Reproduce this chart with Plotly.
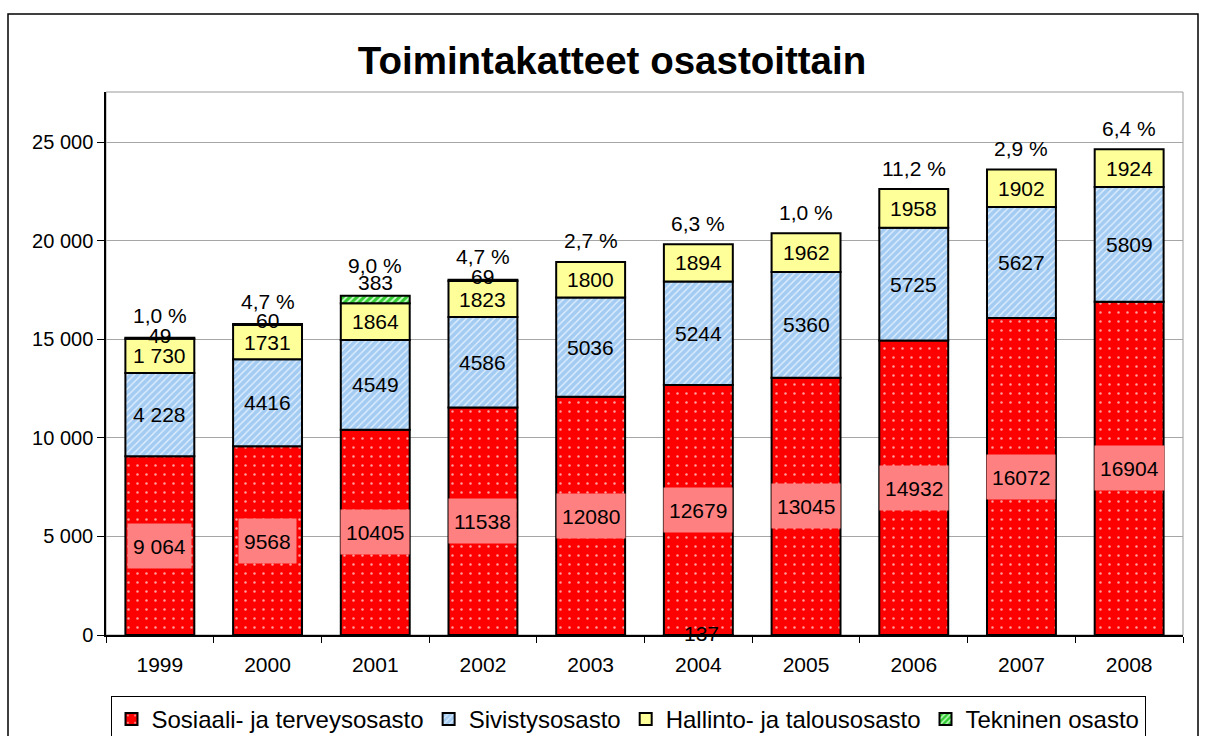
import plotly.graph_objects as go

# ---- data ----
years = ["1999", "2000", "2001", "2002", "2003", "2004", "2005", "2006", "2007", "2008"]
sosiaali = [9064, 9568, 10405, 11538, 12080, 12679, 13045, 14932, 16072, 16904]
sivistys = [4228, 4416, 4549, 4586, 5036, 5244, 5360, 5725, 5627, 5809]
hallinto = [1730, 1731, 1864, 1823, 1800, 1894, 1962, 1958, 1902, 1924]
tekninen = [49, 60, 383, 69, None, -137, None, None, None, None]
muutos = ["1,0 %", "4,7 %", "9,0 %", "4,7 %", "2,7 %", "6,3 %", "1,0 %", "11,2 %", "2,9 %", "6,4 %"]
sosiaali_text = ["9 064", "9568", "10405", "11538", "12080", "12679", "13045", "14932", "16072", "16904"]
sivistys_text = ["4 228", "4416", "4549", "4586", "5036", "5244", "5360", "5725", "5627", "5809"]
hallinto_text = ["1 730", "1731", "1864", "1823", "1800", "1894", "1962", "1958", "1902", "1924"]
tekninen_text = ["49", "60", "383", "69", "", "-137", "", "", "", ""]
y_ticks = [0, 5000, 10000, 15000, 20000, 25000]
y_ticktext = ["0", "5 000", "10 000", "15 000", "20 000", "25 000"]
names = ["Sosiaali- ja terveysosasto", "Sivistysosasto", "Hallinto- ja talousosasto", "Tekninen osasto"]

FONT = "Liberation Sans, Arial, sans-serif"
W, H = 1210, 736
PL, PR, PT, PB = 106, 1183, 92, 635  # plot area pixels
Y_MAX = 25000 * (PB - PT) / (PB - 142)


def px_to_paper(x, y):
    return (x - PL) / (PR - PL), (PB - y) / (PB - PT)


fig = go.Figure()
fig.add_bar(x=years, y=sosiaali, name=names[0],
            marker=dict(color="#FF0000", line=dict(color="black", width=2),
                        pattern=dict(shape=".", bgcolor="#FF0000", fgcolor="#FFA0A0",
                                     size=9, solidity=0.06, fillmode="replace")))
fig.add_bar(x=years, y=sivistys, name=names[1],
            marker=dict(color="#A8D0F5", line=dict(color="black", width=2),
                        pattern=dict(shape="/", bgcolor="#A4CCF2", fgcolor="#E4F1FF",
                                     size=5, solidity=0.25, fillmode="replace")))
fig.add_bar(x=years, y=hallinto, name=names[2],
            marker=dict(color="#FFFF99", line=dict(color="black", width=2)))
fig.add_bar(x=years, y=tekninen, name=names[3],
            marker=dict(color="#33CC33", line=dict(color="black", width=2),
                        pattern=dict(shape="/", bgcolor="#33CC33", fgcolor="#CCFFCC",
                                     size=5, solidity=0.35, fillmode="replace")))

ann = []
lab_font = dict(family=FONT, size=21, color="black")
for i, yr in enumerate(years):
    s, v, h = sosiaali[i], sivistys[i], hallinto[i]
    t = tekninen[i] if tekninen[i] is not None else 0
    top = s + v + h + max(t, 0)
    ann.append(dict(x=i, y=s / 2, text=sosiaali_text[i], showarrow=False, font=lab_font,
                    bgcolor="#FF8080", borderpad=5, height=34))
    ann.append(dict(x=i, y=s + v / 2, text=sivistys_text[i], showarrow=False, font=lab_font))
    ann.append(dict(x=i, y=s + v + h / 2, text=hallinto_text[i], showarrow=False, font=lab_font))
    if tekninen_text[i]:
        if t > 0:
            ann.append(dict(x=i, y=top, text=tekninen_text[i], showarrow=False, font=lab_font,
                            yshift=1 + t / 30))
        else:
            ann.append(dict(x=i, y=0, text=tekninen_text[i], showarrow=False, font=lab_font,
                            yshift=2))
    ann.append(dict(x=i, y=top, text=muutos[i], showarrow=False, font=lab_font,
                    yshift=21 + max(t, 0) / 40))

# outer chart border
bx0, by0 = px_to_paper(8, 14)
bx1, by1 = px_to_paper(1198, 760)
shapes = [
    dict(type="rect", xref="paper", yref="paper", x0=0, y0=0, x1=1, y1=1,
         line=dict(color="#999999", width=1), layer="below"),
    dict(type="rect", xref="paper", yref="paper", x0=bx0, y0=by1, x1=bx1, y1=by0,
         line=dict(color="black", width=1.5)),
]

lx, ly = px_to_paper(628, 696)

fig.update_layout(
    width=W, height=H,
    margin=dict(l=PL, r=W - PR, t=PT, b=H - PB, pad=0, autoexpand=False),
    paper_bgcolor="white", plot_bgcolor="white",
    barmode="relative", bargap=0.36,
    font=dict(family=FONT, size=21, color="black"),
    title=dict(text="<b>Toimintakatteet osastoittain</b>", x=612 / W, xanchor="center",
               xref="container", y=1 - 61 / H, yanchor="middle", yref="container",
               font=dict(family=FONT, size=38.5, color="black")),
    showlegend=True,
    legend=dict(orientation="h", x=lx, xanchor="center", y=ly, yanchor="top",
                bordercolor="black", borderwidth=1, bgcolor="white",
                traceorder="normal", font=dict(family=FONT, size=24, color="black"),
                itemwidth=30),
    annotations=ann,
    shapes=shapes,
    xaxis=dict(type="category", range=[-0.5, len(years) - 0.5], showline=True,
               linecolor="black", linewidth=1.5,
               ticks="outside", tickson="boundaries", ticklen=6, tickcolor="black",
               showgrid=False, tickangle=0, ticklabelstandoff=10,
               tickfont=dict(family=FONT, size=21, color="black")),
    yaxis=dict(range=[0, Y_MAX], tickvals=y_ticks, ticktext=y_ticktext,
               showline=True, linecolor="black", linewidth=1.5,
               ticks="outside", ticklen=7, tickcolor="black",
               showgrid=True, gridcolor="#A6A6A6", gridwidth=1, zeroline=False,
               tickfont=dict(family=FONT, size=20, color="black")),
)

fig.write_html("out.html", config={"displayModeBar": False},
               post_script="document.body.style.margin='0';")
